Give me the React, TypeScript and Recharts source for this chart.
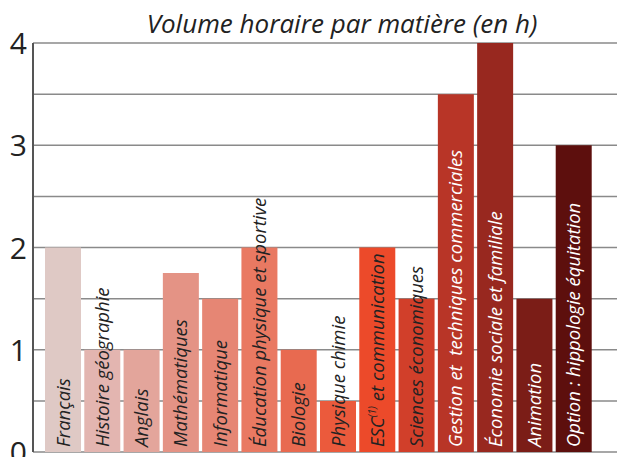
import { Bar, BarChart, CartesianGrid, Cell, LabelList, XAxis, YAxis } from "recharts";

const subjects = [
  "Français",
  "Histoire géographie",
  "Anglais",
  "Mathématiques",
  "Informatique",
  "Éducation physique et sportive",
  "Biologie",
  "Physique chimie",
  "ESC(1) et communication",
  "Sciences économiques",
  "Gestion et  techniques commerciales",
  "Économie sociale et familiale",
  "Animation",
  "Option : hippologie équitation",
];

const hours = [2, 1, 1, 1.75, 1.5, 2, 1, 0.5, 2, 1.5, 3.5, 4, 1.5, 3];

const barColors = [
  "#dfc9c5",
  "#e3b5b0",
  "#e3a59b",
  "#e49385",
  "#e68674",
  "#e97962",
  "#e86a50",
  "#eb5a3c",
  "#ec4a2a",
  "#d13f2a",
  "#b83527",
  "#98281f",
  "#7b1d17",
  "#5d0f0d",
];

const yTicks = [0, 0.5, 1, 1.5, 2, 2.5, 3, 3.5, 4];

const data = subjects.map((name, i) => ({ name, hours: hours[i], color: barColors[i], light: i >= 10 }));

const FONT = "'Open Sans', 'DejaVu Sans', sans-serif";

function YTick(props: any) {
  const { x, y, payload } = props;
  if (payload.value % 1 !== 0) return null;
  return (
    <text x={x} y={y} dy={11} textAnchor="end" fontSize={30} fill="#222" fontFamily={FONT}>
      {payload.value}
    </text>
  );
}

function BarLabel(props: any) {
  const { x, y, width, height, index } = props;
  const d = data[index];
  const cx = x + width / 2 + 6.5;
  const cy = y + height - 5;
  const fill = d.light ? "#fff" : "#222";
  const common = {
    x: cx,
    y: cy,
    transform: `rotate(-90 ${cx} ${cy})`,
    fontSize: 18.5,
    fontStyle: "italic",
    fontFamily: FONT,
    fill,
    style: { whiteSpace: "pre" as const },
  };
  if (d.name.startsWith("ESC(1)")) {
    return (
      <text {...common}>
        <tspan>ESC</tspan>
        <tspan fontSize={10} dy={-8}>(1)</tspan>
        <tspan dy={8}> et communication</tspan>
      </text>
    );
  }
  return <text {...common}>{d.name}</text>;
}

export default function App() {
  return (
    <div style={{ position: "absolute", left: 0, top: 0, width: 617, height: 457, background: "#fff" }}>
      <div
        style={{
          position: "absolute",
          left: 0,
          top: 6,
          width: 684,
          textAlign: "center",
          fontFamily: FONT,
          fontStyle: "italic",
          fontSize: 26,
          color: "#222",
          lineHeight: "34px",
        }}
      >
        Volume horaire par matière (en h)
      </div>
      <BarChart width={617} height={457} data={data} margin={{ top: 43, right: 0, bottom: 5, left: 0 }} barSize={36}>
        <CartesianGrid vertical={false} stroke="#8a8a8a" strokeWidth={1.5} />
        <XAxis
          dataKey="name"
          height={0}
          tick={false}
          tickLine={false}
          axisLine={{ stroke: "#555", strokeWidth: 2 }}
          padding={{ left: 10, right: 24 }}
        />
        <YAxis
          width={33}
          domain={[0, 4]}
          ticks={yTicks}
          interval={0}
          tickLine={false}
          tickMargin={0}
          axisLine={{ stroke: "#555", strokeWidth: 2 }}
          tick={<YTick />}
        />
        <Bar dataKey="hours" isAnimationActive={false}>
          {data.map((d) => (
            <Cell key={d.name} fill={d.color} />
          ))}
          <LabelList dataKey="hours" content={<BarLabel />} />
        </Bar>
      </BarChart>
    </div>
  );
}
